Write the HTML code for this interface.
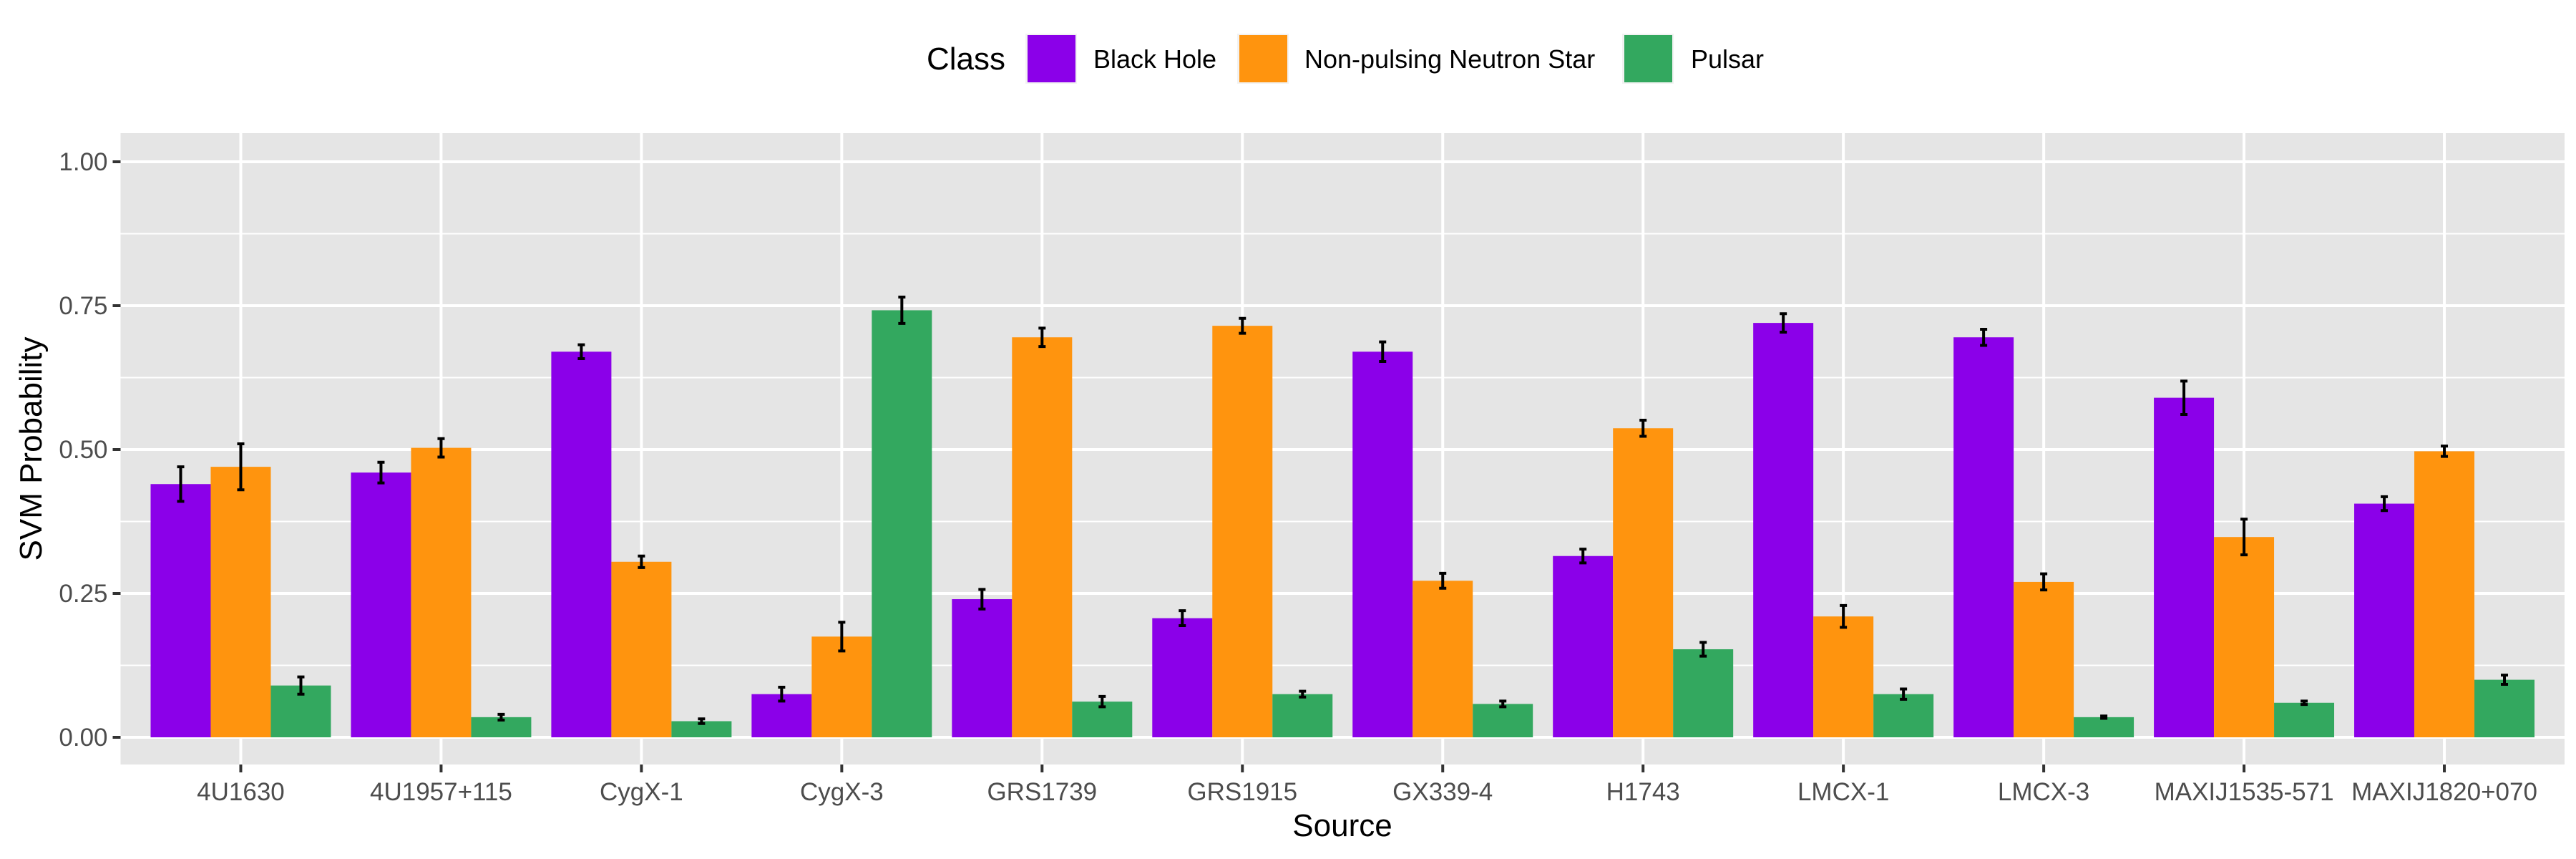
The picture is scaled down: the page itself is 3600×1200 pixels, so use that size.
<!DOCTYPE html>
<html><head><meta charset="utf-8"><style>
html,body{margin:0;padding:0;background:#fff;}
svg{display:block;font-family:"Liberation Sans",Arial,sans-serif;}
</style></head><body>
<svg id="chart" width="3600" height="1200" viewBox="0 0 3600 1200" xmlns="http://www.w3.org/2000/svg">
<rect x="0" y="0" width="3600" height="1200" fill="#fff"/>
<g>
<text x="1295" y="97" font-size="44" fill="#000">Class</text>
<rect x="1433" y="47" width="72" height="70" fill="#f2f2f2"/>
<rect x="1436" y="49" width="67" height="66" fill="#8B00E9"/>
<text x="1528" y="95" font-size="36" fill="#000">Black Hole</text>
<rect x="1729" y="47" width="72" height="70" fill="#f2f2f2"/>
<rect x="1732" y="49" width="67" height="66" fill="#FF940E"/>
<text x="1823" y="95" font-size="36" fill="#000">Non-pulsing Neutron Star</text>
<rect x="2267" y="47" width="72" height="70" fill="#f2f2f2"/>
<rect x="2270" y="49" width="67" height="66" fill="#33A85F"/>
<text x="2363" y="95" font-size="36" fill="#000">Pulsar</text>
</g>
<g id="plot"></g>
<text x="1876" y="1168" font-size="44" fill="#000" text-anchor="middle">Source</text>
<text transform="translate(58,627) rotate(-90)" font-size="44" fill="#000" text-anchor="middle">SVM Probability</text>
</svg>
<script>
const categories = ["4U1630","4U1957+115","CygX-1","CygX-3","GRS1739","GRS1915","GX339-4","H1743","LMCX-1","LMCX-3","MAXIJ1535-571","MAXIJ1820+070"];
const seriesNames = ["Black Hole","Non-pulsing Neutron Star","Pulsar"];
const blackHole = [0.44,0.46,0.67,0.075,0.24,0.207,0.67,0.315,0.72,0.695,0.59,0.406];
const blackHoleErr = [0.03,0.018,0.012,0.012,0.017,0.013,0.017,0.012,0.016,0.014,0.029,0.012];
const neutronStar = [0.47,0.503,0.305,0.175,0.695,0.715,0.272,0.537,0.21,0.27,0.348,0.497];
const neutronStarErr = [0.04,0.016,0.01,0.025,0.016,0.013,0.013,0.014,0.019,0.014,0.031,0.009];
const pulsar = [0.09,0.035,0.028,0.742,0.062,0.075,0.058,0.153,0.075,0.035,0.06,0.1];
const pulsarErr = [0.015,0.005,0.004,0.023,0.009,0.005,0.005,0.012,0.009,0.002,0.003,0.008];
const yTicks = [0,0.25,0.5,0.75,1];
const yTickLabels = ["0.00","0.25","0.50","0.75","1.00"];

const NS="http://www.w3.org/2000/svg";
const L=168.5,R=3584,T=186,B=1068;
const y0=1030,yUnit=804;
const step=(R-L)/(categories.length+0.2);
function xc(i){return L+step*(0.6+i);}
function yv(v){return y0-v*yUnit;}
const plot=document.getElementById('plot');
function mk(tag,attrs){const e=document.createElementNS(NS,tag);for(const k in attrs)e.setAttribute(k,attrs[k]);plot.appendChild(e);return e;}
const bg=mk('rect',{x:L,y:T,width:R-L,height:B-T,fill:'#E5E5E5'});


// minor grid
for(let i=0;i<yTicks.length-1;i++){
 const v=(yTicks[i]+yTicks[i+1])/2;
 const g=mk('line',{x1:L,x2:R,y1:yv(v),y2:yv(v),stroke:'#fff','stroke-width':2});
 
 
}
yTicks.forEach((v,i)=>{
 const g=mk('line',{x1:L,x2:R,y1:yv(v),y2:yv(v),stroke:'#fff','stroke-width':4});
 
 
 const t=mk('line',{x1:L-11,x2:L,y1:yv(v),y2:yv(v),stroke:'#333','stroke-width':4});
 
 
 const tx=mk('text',{x:L-18,y:yv(v)+12,'font-size':35,fill:'#4D4D4D','text-anchor':'end'});
 tx.textContent=yTickLabels[i];
 
 
});
categories.forEach((c,i)=>{
 const g=mk('line',{x1:xc(i),x2:xc(i),y1:T,y2:B,stroke:'#fff','stroke-width':4});
 
 
 const t=mk('line',{x1:xc(i),x2:xc(i),y1:B,y2:B+11,stroke:'#333','stroke-width':4});
 
 
 const tx=mk('text',{x:xc(i),y:B+50,'font-size':35,fill:'#4D4D4D','text-anchor':'middle'});
 tx.textContent=c;
 
 
});
const series=[[blackHole,blackHoleErr,'#8B00E9','black-hole'],[neutronStar,neutronStarErr,'#FF940E','neutron-star'],[pulsar,pulsarErr,'#33A85F','pulsar']];
const bw=step*0.9/3;
series.forEach((s,si)=>{
 s[0].forEach((v,i)=>{
  const x=xc(i)-1.5*bw+si*bw;
  const b=mk('rect',{x:x,y:yv(v),width:bw,height:y0-yv(v),fill:s[2]});
  
  
 });
});
series.forEach((s,si)=>{
 s[0].forEach((v,i)=>{
  const cx=xc(i)-bw+si*bw;
  const e=s[1][i];
  const p=mk('path',{d:`M${cx-5},${yv(v+e)}H${cx+5}M${cx},${yv(v+e)}V${yv(v-e)}M${cx-5},${yv(v-e)}H${cx+5}`,stroke:'#000','stroke-width':4,fill:'none'});
  
  
 });
});
</script>
</body></html>
